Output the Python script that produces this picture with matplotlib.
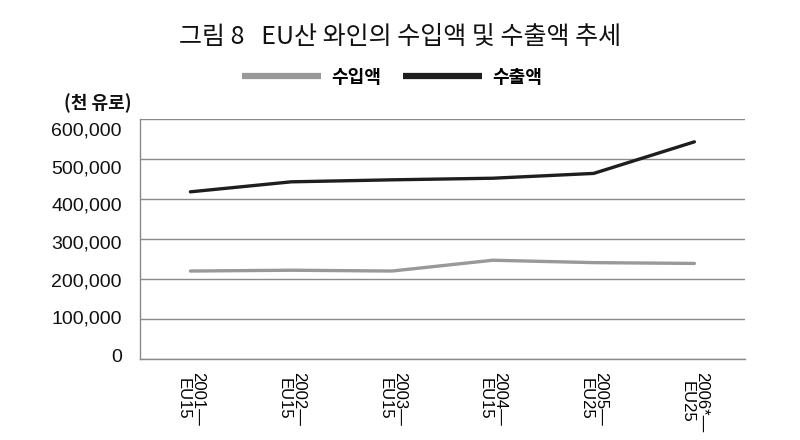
import matplotlib
matplotlib.use("Agg")
import matplotlib.pyplot as plt

plt.rcParams['font.family'] = ['Noto Sans CJK KR', 'DejaVu Sans']

categories = ["2001—\nEU15", "2002—\nEU15", "2003—\nEU15", "2004—\nEU15", "2005—\nEU25", "2006*—\nEU25"]
imports = [220000, 222000, 220000, 247000, 241000, 239000]
exports = [418000, 443000, 448000, 452000, 464000, 543000]
yticks = [0, 100000, 200000, 300000, 400000, 500000, 600000]

fig = plt.figure(figsize=(8, 4.4), dpi=100)
ax = fig.add_axes([0.175, 0.184, 0.756, 0.5455])

x = list(range(len(categories)))
ax.plot(x, imports, color='#999999', lw=2.4, label='수입액', solid_capstyle='round')
ax.plot(x, exports, color='#1e1e1e', lw=2.4, label='수출액', solid_capstyle='round')

ax.set_xlim(-0.5, len(categories) - 0.5)
ax.set_ylim(0, 600000)
ax.set_yticks(yticks)
ax.set_yticklabels([])
ax.grid(axis='y', color='#8a8a8a', lw=1)
ax.set_axisbelow(True)
for s in ['top', 'right']:
    ax.spines[s].set_visible(False)
for s in ['left', 'bottom']:
    ax.spines[s].set_color('#8a8a8a')
    ax.spines[s].set_linewidth(1)
ax.tick_params(length=0)
ax.tick_params(axis='x', pad=9)
ax.set_xticks(x)
ax.set_xticklabels(categories, rotation=-90, va='top', ha='center',
                   fontsize=12, family=['Liberation Sans'], linespacing=0.95)

# y tick labels, spaced slightly tighter than the gridlines as in the printed original
ytrans = ax.get_yaxis_transform()
for v in yticks:
    ax.text(-0.03, v * 0.942 + 5000, f"{v:,}", transform=ytrans, ha='right', va='center',
            fontsize=14, family=['Liberation Sans'], color='#111111')

fig.text(0.5, 0.915, "그림 8   EU산 와인의 수입액 및 수출액 추세", ha='center', va='center',
         fontsize=18, fontweight='light', color='#111111')
fig.text(0.122, 0.765, "(천 유로)", ha='center', va='center', fontsize=13, fontweight='bold', color='#111111')

leg = fig.legend(loc='center', bbox_to_anchor=(0.49, 0.825), ncol=2, frameon=False,
                 prop={'weight': 'bold', 'size': 13}, handlelength=4.4,
                 handletextpad=0.55, columnspacing=1.2)
for line in leg.get_lines():
    line.set_linewidth(4.5)
    line.set_solid_capstyle('butt')

fig.savefig("out.png", dpi=100)
